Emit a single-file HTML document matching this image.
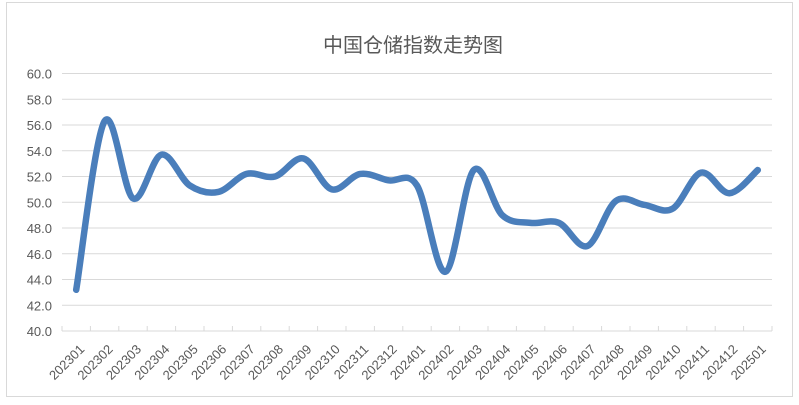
<!DOCTYPE html>
<html><head><meta charset="utf-8"><style>
html,body{margin:0;padding:0;background:#fff;width:799px;height:405px;overflow:hidden}
svg text{font-family:"Liberation Sans","Noto Sans CJK SC",sans-serif}
</style></head><body>
<svg id="s" width="799" height="405" xmlns="http://www.w3.org/2000/svg">
<rect x="6.5" y="2.5" width="786" height="394" fill="#fff" stroke="#d9d9d9" stroke-width="1"/>
<text x="413" y="52" font-size="20" fill="#595959" text-anchor="middle" font-family="'Noto Sans CJK SC',sans-serif">中国仓储指数走势图</text>
<g id="g"></g>
</svg>
<script>
(function(){
var d=[43.2,56.3,50.3,53.7,51.3,50.8,52.2,52.0,53.4,51.0,52.2,51.7,51.3,44.6,52.5,49.0,48.4,48.4,46.6,50.1,49.8,49.5,52.3,50.7,52.5];
var x0=62,x1=772,yt=73.5,bot=331,cw=(x1-x0)/25;
function Y(v){return bot-(v-40)/20*(bot-yt);}
function X(i){return x0+cw*(i+0.5);}
var h='';
for(var v=42;v<=60;v+=2){var y=Y(v);h+='<line x1="'+x0+'" x2="'+x1+'" y1="'+y+'" y2="'+y+'" stroke="#d9d9d9" stroke-width="1"/>';}
for(var v=40;v<=60;v+=2){h+='<text x="52" y="'+(Y(v)+5)+'" font-size="13" fill="#595959" text-anchor="end">'+v.toFixed(1)+'</text>';}
h+='<line x1="'+x0+'" x2="'+x1+'" y1="'+bot+'" y2="'+bot+'" stroke="#d9d9d9"/>';
for(var i=0;i<=25;i++){var x=x0+cw*i;h+='<line x1="'+x+'" x2="'+x+'" y1="'+(bot-5)+'" y2="'+bot+'" stroke="#d9d9d9"/>';}
var labs=[];for(var yy=2023;yy<=2025;yy++)for(var m=1;m<=12;m++){labs.push(yy+(m<10?'0':'')+m);}
for(var i=0;i<25;i++){var x=X(i)+9,y=bot+19;h+='<text transform="translate('+x+','+y+') rotate(-45)" font-size="13" fill="#595959" text-anchor="end">'+labs[i]+'</text>';}
var p=d.map(function(v,i){return [X(i),Y(v)];});
var s='M'+p[0][0]+','+p[0][1];
for(var i=0;i<p.length-1;i++){var a=p[i-1]||p[i],b=p[i],c=p[i+1],e=p[i+2]||c;var t=1/6;
s+=' C'+(b[0]+(c[0]-a[0])*t)+','+(b[1]+(c[1]-a[1])*t)+' '+(c[0]-(e[0]-b[0])*t)+','+(c[1]-(e[1]-b[1])*t)+' '+c[0]+','+c[1];}
h+='<path d="'+s+'" fill="none" stroke="#4a7ebb" stroke-width="6.5" stroke-linecap="round" stroke-linejoin="round"/>';
document.getElementById('g').innerHTML=h;
})();
</script>
</body></html>
